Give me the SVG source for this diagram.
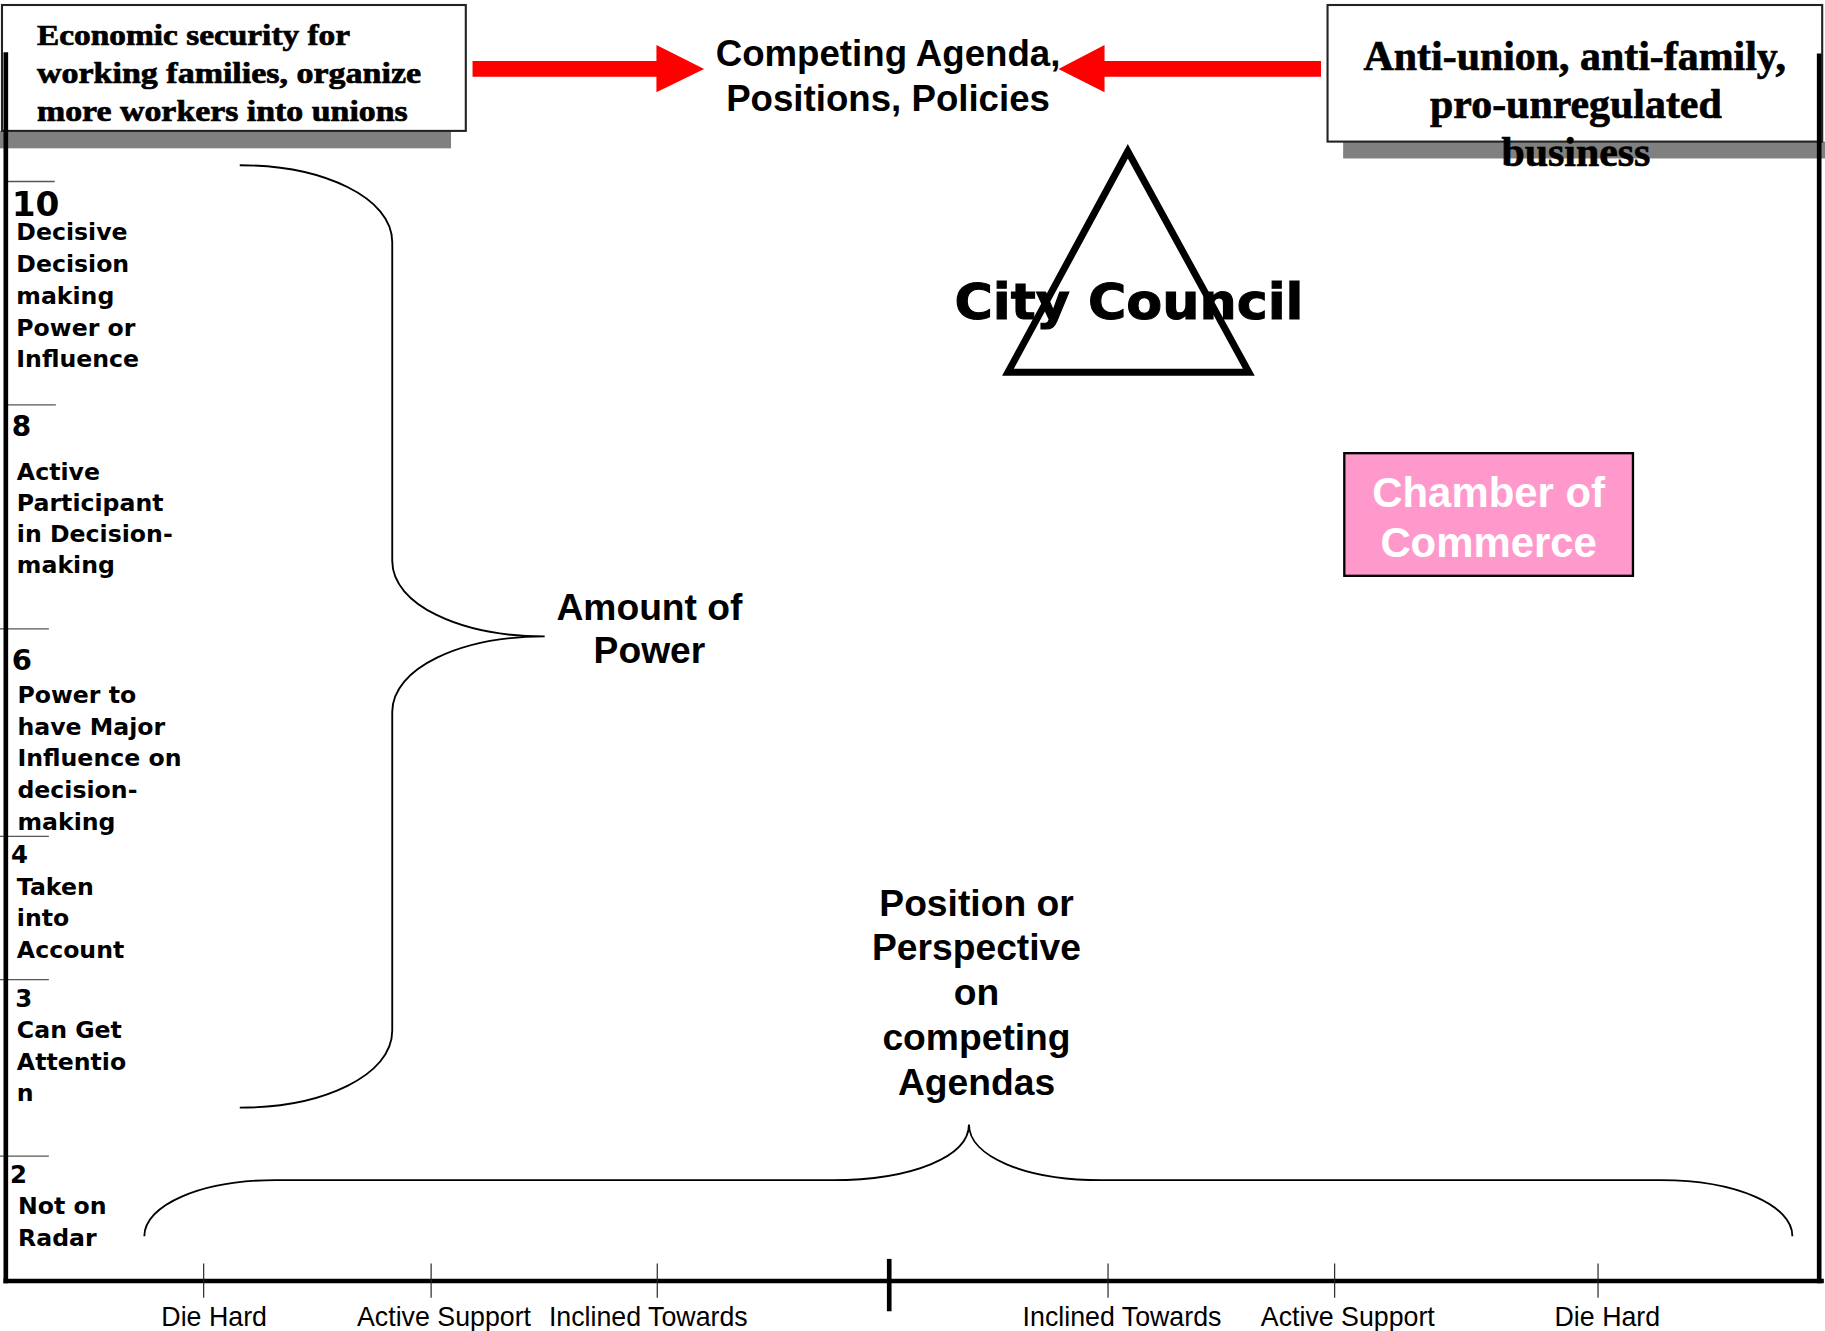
<svg xmlns="http://www.w3.org/2000/svg" width="1825" height="1331" viewBox="0 0 1825 1331">
<style>
.serif{font-family:"Liberation Serif","Times New Roman",serif;font-weight:bold;fill:#000;stroke:#000;stroke-width:0.6}
.sans{font-family:"Liberation Sans",Arial,sans-serif;font-weight:bold;fill:#000}
.reg{font-family:"Liberation Sans",Arial,sans-serif;font-weight:normal;fill:#000;font-size:23px;text-anchor:middle}
.dv{font-family:"DejaVu Sans","Verdana",sans-serif;font-weight:bold;fill:#000}
.desc{font-size:20.3px}
.box{fill:#fff;stroke:#222;stroke-width:1.8}
.shadow{fill:#808080}
.brace{fill:none;stroke:#000;stroke-width:1.6}
.axis{stroke:#000;stroke-width:4;fill:none}
.tick{stroke:#222;stroke-width:1}
.lvl{stroke:#555;stroke-width:1.1}
.red{fill:#ff0000}
</style>
<rect width="1825" height="1331" fill="#fff"/>
<g transform="scale(1.1639,1.1635)">
  <g id="left-agenda">
    <rect class="shadow" x="0" y="112.5" width="387.5" height="15"/>
    <rect class="box" x="1.7" y="4.3" width="398.5" height="108.2"/>
    <text class="serif" font-size="25" x="31.8" y="39" textLength="269" lengthAdjust="spacingAndGlyphs">Economic security for</text>
    <text class="serif" font-size="25" x="31.8" y="71.5" textLength="330" lengthAdjust="spacingAndGlyphs">working families, organize</text>
    <text class="serif" font-size="25" x="31.8" y="103.7" textLength="318.5" lengthAdjust="spacingAndGlyphs">more workers into unions</text>
  </g>
  <g id="right-agenda">
    <rect class="shadow" x="1154" y="121.7" width="420" height="14.5"/>
    <rect class="box" x="1140.6" y="4.3" width="425" height="117.4"/>
    <text class="serif" font-size="36" x="1353" y="60.2" text-anchor="middle">Anti-union, anti-family,</text>
    <text class="serif" font-size="36" x="1354" y="101.7" text-anchor="middle">pro-unregulated</text>
    <text class="serif" font-size="36" x="1354" y="142.6" text-anchor="middle">business</text>
  </g>
  <g id="competing-agenda">
    <text class="sans" font-size="31.5" x="763" y="57" text-anchor="middle">Competing Agenda,</text>
    <text class="sans" font-size="31.5" x="763" y="95.5" text-anchor="middle">Positions, Policies</text>
  </g>
  <g id="city-council">
    <polygon points="969,130 866,320 1073,320" fill="none" stroke="#000" stroke-width="6" stroke-linejoin="miter"/>
    <text class="dv" font-size="43" x="820" y="274" textLength="300" lengthAdjust="spacingAndGlyphs" stroke="#000" stroke-width="0.9">City Council</text>
  </g>
  <g id="chamber-of-commerce">
    <rect x="1155" y="389.5" width="248" height="105.4" fill="#ff99cc" stroke="#000" stroke-width="2"/>
    <text class="sans" font-size="36" x="1279" y="436" text-anchor="middle" style="fill:#fff">Chamber of</text>
    <text class="sans" font-size="36" x="1279" y="479" text-anchor="middle" style="fill:#fff">Commerce</text>
  </g>
  <g id="power-scale">
    <line class="lvl" x1="6" y1="156" x2="47" y2="156"/>
    <line class="lvl" x1="6" y1="348" x2="48" y2="348"/>
    <line class="lvl" x1="0" y1="540.5" x2="42" y2="540.5"/>
    <line class="lvl" x1="0" y1="718.8" x2="42" y2="718.8"/>
    <line class="lvl" x1="0" y1="842" x2="42" y2="842"/>
    <line class="lvl" x1="0" y1="993.7" x2="42" y2="993.7"/>
    <text class="dv" font-size="29.5" x="10" y="186">10</text>
    <text class="dv desc" x="14"><tspan x="14" y="206.2">Decisive</tspan><tspan x="14" y="233.4">Decision</tspan><tspan x="14" y="261">making</tspan><tspan x="14" y="288.4">Power or</tspan><tspan x="14" y="315.6">Influence</tspan></text>
    <text class="dv" font-size="24" x="10" y="375">8</text>
    <text class="dv desc" x="14.5"><tspan x="14.5" y="412.4">Active</tspan><tspan x="14.5" y="439.6">Participant</tspan><tspan x="14.5" y="466.2">in Decision-</tspan><tspan x="14.5" y="492.6">making</tspan></text>
    <text class="dv" font-size="25" x="10" y="575.6">6</text>
    <text class="dv desc" x="15"><tspan x="15" y="604.3">Power to</tspan><tspan x="15" y="631.5">have Major</tspan><tspan x="15" y="658.7">Influence on</tspan><tspan x="15" y="685.9">decision-</tspan><tspan x="15" y="713">making</tspan></text>
    <text class="dv" font-size="21" x="9.5" y="741.7">4</text>
    <text class="dv desc" x="14.5"><tspan x="14.5" y="769">Taken</tspan><tspan x="14.5" y="796">into</tspan><tspan x="14.5" y="823.3">Account</tspan></text>
    <text class="dv" font-size="21" x="13" y="865.4">3</text>
    <text class="dv desc" x="14.5"><tspan x="14.5" y="892">Can Get</tspan><tspan x="14.5" y="919.8">Attentio</tspan><tspan x="14.5" y="946.5">n</tspan></text>
    <text class="dv" font-size="21" x="8.5" y="1016.6">2</text>
    <text class="dv desc" x="15.5"><tspan x="15.5" y="1043.8">Not on</tspan><tspan x="15.5" y="1071">Radar</tspan></text>
  </g>
  <g id="amount-of-power">
    <text class="sans" font-size="32" x="558" y="532.5" text-anchor="middle">Amount of</text>
    <text class="sans" font-size="32" x="558" y="569.5" text-anchor="middle">Power</text>
  </g>
  <g id="position-label">
    <text class="sans" font-size="32" x="839" text-anchor="middle"><tspan x="839" y="787">Position or</tspan><tspan x="839" y="825.5">Perspective</tspan><tspan x="839" y="864">on</tspan><tspan x="839" y="902.5">competing</tspan><tspan x="839" y="941">Agendas</tspan></text>
  </g>
  <g id="position-scale">
    <text class="reg" x="184" y="1140">Die Hard</text>
    <text class="reg" x="381.5" y="1140">Active Support</text>
    <text class="reg" x="557" y="1140">Inclined Towards</text>
    <text class="reg" x="964" y="1140">Inclined Towards</text>
    <text class="reg" x="1158" y="1140">Active Support</text>
    <text class="reg" x="1381" y="1140">Die Hard</text>
  </g>
  <g id="connectors">
    <polygon class="red" points="406,52.4 564,52.4 564,38.7 605,59.3 564,79.3 564,65.9 406,65.9"/>
    <polygon class="red" points="1135,52.4 949,52.4 949,38.7 909.4,59.3 949,79.3 949,65.9 1135,65.9"/>
    <path class="brace" d="M206,142 C278,142 337,170 337,208 L337,482 C337,520 396,547 468,547 C396,547 337,574 337,612 L337,886 C337,924 278,952 206,952"/>
    <path class="brace" d="M124,1062.5 C124,1036 172,1014.3 237,1014.3 L715,1014.3 C784,1014.3 832.5,994 832.5,966.5 C832.5,994 881,1014.3 946,1014.3 L1427,1014.3 C1492,1014.3 1540,1036 1540,1062.5"/>
    <line class="axis" x1="5" y1="45" x2="5" y2="1103"/>
    <line class="axis" x1="3" y1="1101" x2="1567" y2="1101"/>
    <line class="axis" x1="1563" y1="46" x2="1563" y2="1103" stroke-width="3.5"/>
    <line class="axis" x1="764" y1="1082" x2="764" y2="1127"/>
    <line class="tick" x1="175" y1="1086" x2="175" y2="1115.4"/>
    <line class="tick" x1="370.4" y1="1086" x2="370.4" y2="1115.4"/>
    <line class="tick" x1="564.7" y1="1086" x2="564.7" y2="1115.4"/>
    <line class="tick" x1="952" y1="1086" x2="952" y2="1115.4"/>
    <line class="tick" x1="1146.7" y1="1086" x2="1146.7" y2="1115.4"/>
    <line class="tick" x1="1373" y1="1086" x2="1373" y2="1115.4"/>
  </g>
</g>
</svg>
